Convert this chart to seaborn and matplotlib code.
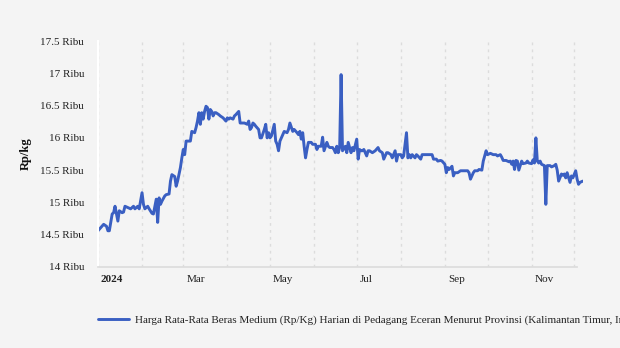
import matplotlib
matplotlib.use("Agg")
import matplotlib.pyplot as plt
import matplotlib.dates as mdates
import matplotlib.transforms as mtransforms
import pandas as pd
import seaborn as sns

# Daily medium-rice retail price, (day offset from 1 Jan 2024, price in thousand Rp)
jan_feb = [(0, 14.56), (4, 14.66), (6, 14.63), (7, 14.56), (8, 14.56), (10, 14.82),
           (11, 14.84), (12, 14.94), (14, 14.71), (15, 14.87), (17, 14.84), (18, 14.85),
           (19, 14.94), (21, 14.92), (23, 14.90), (25, 14.94), (26, 14.90), (28, 14.94),
           (29, 14.90), (31, 15.15), (32, 14.97), (33, 14.90), (35, 14.94), (36, 14.90),
           (38, 14.83), (39, 14.82), (41, 15.05), (42, 14.69), (43, 15.07), (44, 14.97),
           (45, 15.02), (47, 15.10), (48, 15.12), (50, 15.13), (51, 15.33), (52, 15.43),
           (54, 15.40), (55, 15.25), (56, 15.33), (58, 15.54), (59, 15.69)]
mar_apr = [(60, 15.82), (61, 15.74), (62, 15.95), (65, 15.95), (66, 16.10), (68, 16.08),
           (69, 16.16), (70, 16.26), (71, 16.39), (72, 16.21), (73, 16.39), (74, 16.29),
           (75, 16.41), (76, 16.49), (77, 16.47), (78, 16.29), (79, 16.44), (80, 16.41),
           (81, 16.34), (82, 16.39), (83, 16.39), (85, 16.36), (86, 16.34), (88, 16.31),
           (90, 16.26), (91, 16.31), (92, 16.29), (93, 16.31), (95, 16.29), (96, 16.34),
           (97, 16.36), (99, 16.41), (100, 16.23), (102, 16.23), (103, 16.23), (105, 16.21),
           (106, 16.26), (107, 16.13), (108, 16.16), (109, 16.23), (110, 16.21), (111, 16.18),
           (113, 16.13), (114, 16.00), (115, 16.00), (117, 16.13), (118, 16.21), (119, 16.00),
           (120, 16.08), (121, 16.00)]
may_jun = [(122, 16.03), (124, 16.21), (125, 15.95), (126, 15.90), (127, 15.80), (128, 15.95),
           (130, 16.05), (131, 16.10), (133, 16.08), (134, 16.13), (135, 16.23), (137, 16.10),
           (138, 16.13), (140, 16.08), (141, 16.05), (142, 16.10), (143, 15.98), (144, 16.08),
           (145, 15.87), (146, 15.69), (147, 15.82), (148, 15.93), (150, 15.93), (151, 15.90),
           (153, 15.90), (154, 15.82), (155, 15.87), (157, 15.87), (158, 16.01), (159, 15.80),
           (161, 15.93), (162, 15.87), (163, 15.85), (165, 15.85), (166, 15.82), (167, 15.77),
           (168, 15.87), (169, 15.77), (170, 15.85), (171, 16.98), (172, 15.80), (174, 15.87),
           (175, 15.77), (176, 15.93), (177, 15.85), (178, 15.77), (179, 15.85), (180, 15.80)]
jul_aug = [(182, 15.98), (183, 15.67), (184, 15.82), (185, 15.80), (186, 15.80), (187, 15.82),
           (189, 15.72), (190, 15.80), (191, 15.80), (193, 15.77), (195, 15.80), (197, 15.85),
           (198, 15.80), (200, 15.77), (201, 15.67), (203, 15.77), (204, 15.77), (206, 15.74),
           (207, 15.69), (209, 15.80), (210, 15.64), (211, 15.74), (213, 15.74), (214, 15.69),
           (215, 15.72), (217, 16.08), (218, 15.69), (219, 15.74), (220, 15.69), (221, 15.74),
           (223, 15.69), (224, 15.74), (225, 15.72), (227, 15.67), (228, 15.74), (230, 15.74),
           (231, 15.74), (233, 15.74), (235, 15.74), (236, 15.67), (238, 15.67), (239, 15.64),
           (241, 15.65), (242, 15.64)]
sep_oct = [(244, 15.59), (245, 15.46), (246, 15.54), (247, 15.51), (249, 15.56), (250, 15.41),
           (251, 15.46), (253, 15.46), (255, 15.49), (256, 15.49), (258, 15.49), (260, 15.49),
           (261, 15.46), (262, 15.36), (264, 15.46), (265, 15.49), (267, 15.49), (268, 15.51),
           (270, 15.50), (271, 15.64), (273, 15.80), (274, 15.74), (276, 15.76), (278, 15.74),
           (280, 15.74), (281, 15.72), (283, 15.74), (284, 15.70), (285, 15.65), (287, 15.65),
           (289, 15.63), (290, 15.64), (291, 15.59), (292, 15.64), (293, 15.51), (294, 15.65),
           (295, 15.64), (296, 15.50), (298, 15.64), (299, 15.60), (301, 15.61), (302, 15.64),
           (303, 15.61)]
nov_dec = [(305, 15.60), (306, 15.66), (307, 15.61), (308, 16.00), (309, 15.64), (310, 15.61),
           (311, 15.64), (312, 15.59), (313, 15.58), (314, 15.57), (315, 14.97), (316, 15.57),
           (318, 15.57), (319, 15.55), (321, 15.57), (322, 15.59), (323, 15.50), (324, 15.33),
           (326, 15.44), (327, 15.42), (328, 15.44), (329, 15.38), (330, 15.46), (332, 15.31),
           (333, 15.41), (334, 15.38), (336, 15.49), (337, 15.36), (338, 15.28), (339, 15.31),
           (341, 15.33)]

series_label = ("Harga Rata-Rata Beras Medium (Rp/Kg) Harian di Pedagang Eceran "
                "Menurut Provinsi (Kalimantan Timur, Indonesia)")
y_title = "Rp/kg"
y_ticks = [14.0, 14.5, 15.0, 15.5, 16.0, 16.5, 17.0, 17.5]
y_tick_labels = ["14 Ribu", "14.5 Ribu", "15 Ribu", "15.5 Ribu", "16 Ribu",
                 "16.5 Ribu", "17 Ribu", "17.5 Ribu"]
x_tick_dates = ["2024-01-01", "2024-03-01", "2024-05-01", "2024-07-01",
                "2024-09-01", "2024-11-01"]
x_tick_labels = ["2024", "Mar", "May", "Jul", "Sep", "Nov"]

start = pd.Timestamp("2024-01-01")
rows = jan_feb + mar_apr + may_jun + jul_aug + sep_oct + nov_dec
df = pd.DataFrame(rows, columns=["day", "price"])
df["date"] = start + pd.to_timedelta(df["day"], unit="D")

sns.set_theme(style="white")
plt.rcParams["font.family"] = ["Liberation Serif", "DejaVu Serif"]

BG = "#f4f4f4"
LINE = "#3a5fc2"

fig = plt.figure(figsize=(6.2, 3.48), dpi=100, facecolor=BG)
ax = fig.add_axes([0.158, 0.233, 0.782, 0.649])
ax.set_facecolor(BG)

sns.lineplot(data=df, x="date", y="price", ax=ax, color=LINE, linewidth=2.1,
             label=series_label, legend=False)

ax.set_ylim(14, 17.5)
ax.set_xlim(start, pd.Timestamp("2024-12-07"))

# y axis
ax.set_yticks(y_ticks)
ax.set_yticklabels(y_tick_labels)
ax.tick_params(axis="y", length=4, width=1.2, color="white", pad=6,
               labelsize=8, labelcolor="#222222")
ax.set_ylabel(y_title, fontsize=9, fontweight="bold", color="#111111")
ax.yaxis.set_label_coords(-0.136, 0.5)

# x axis: bimonthly labels, monthly dashed grid
month_starts = pd.date_range("2024-01-01", "2024-12-01", freq="MS")
ax.set_xticks(month_starts, minor=True)
ax.set_xticks(pd.to_datetime(x_tick_dates))
ax.set_xticklabels(x_tick_labels)
ax.tick_params(axis="x", which="both", length=0, pad=6, labelsize=8,
               labelcolor="#222222")
shift = mtransforms.ScaledTranslation(3 / 100, 0, fig.dpi_scale_trans)
for i, lbl in enumerate(ax.get_xticklabels()):
    lbl.set_horizontalalignment("left")
    lbl.set_transform(lbl.get_transform() + shift)
    if i == 0:
        lbl.set_fontweight("bold")
ax.set_xlabel("")

ax.grid(False)
ax.xaxis.grid(True, which="both", color="#dcdcdc", linestyle=(0, (2, 3)), linewidth=1)
ax.set_axisbelow(True)

for side in ("top", "right"):
    ax.spines[side].set_visible(False)
ax.spines["left"].set_color("white")
ax.spines["left"].set_linewidth(1.5)
ax.spines["bottom"].set_color("#dddddd")
ax.spines["bottom"].set_linewidth(1.3)
ax.spines["bottom"].set_bounds(mdates.date2num(start),
                               mdates.date2num(pd.Timestamp("2024-12-03")))

handles, labels = ax.get_legend_handles_labels()
fig.legend(handles, labels, loc="center left", bbox_to_anchor=(0.158, 0.080),
           frameon=False, fontsize=8, handlelength=2.8, handletextpad=0.55,
           borderpad=0, borderaxespad=0, labelcolor="#222222")

fig.savefig("out.png", dpi=100, facecolor=BG)
